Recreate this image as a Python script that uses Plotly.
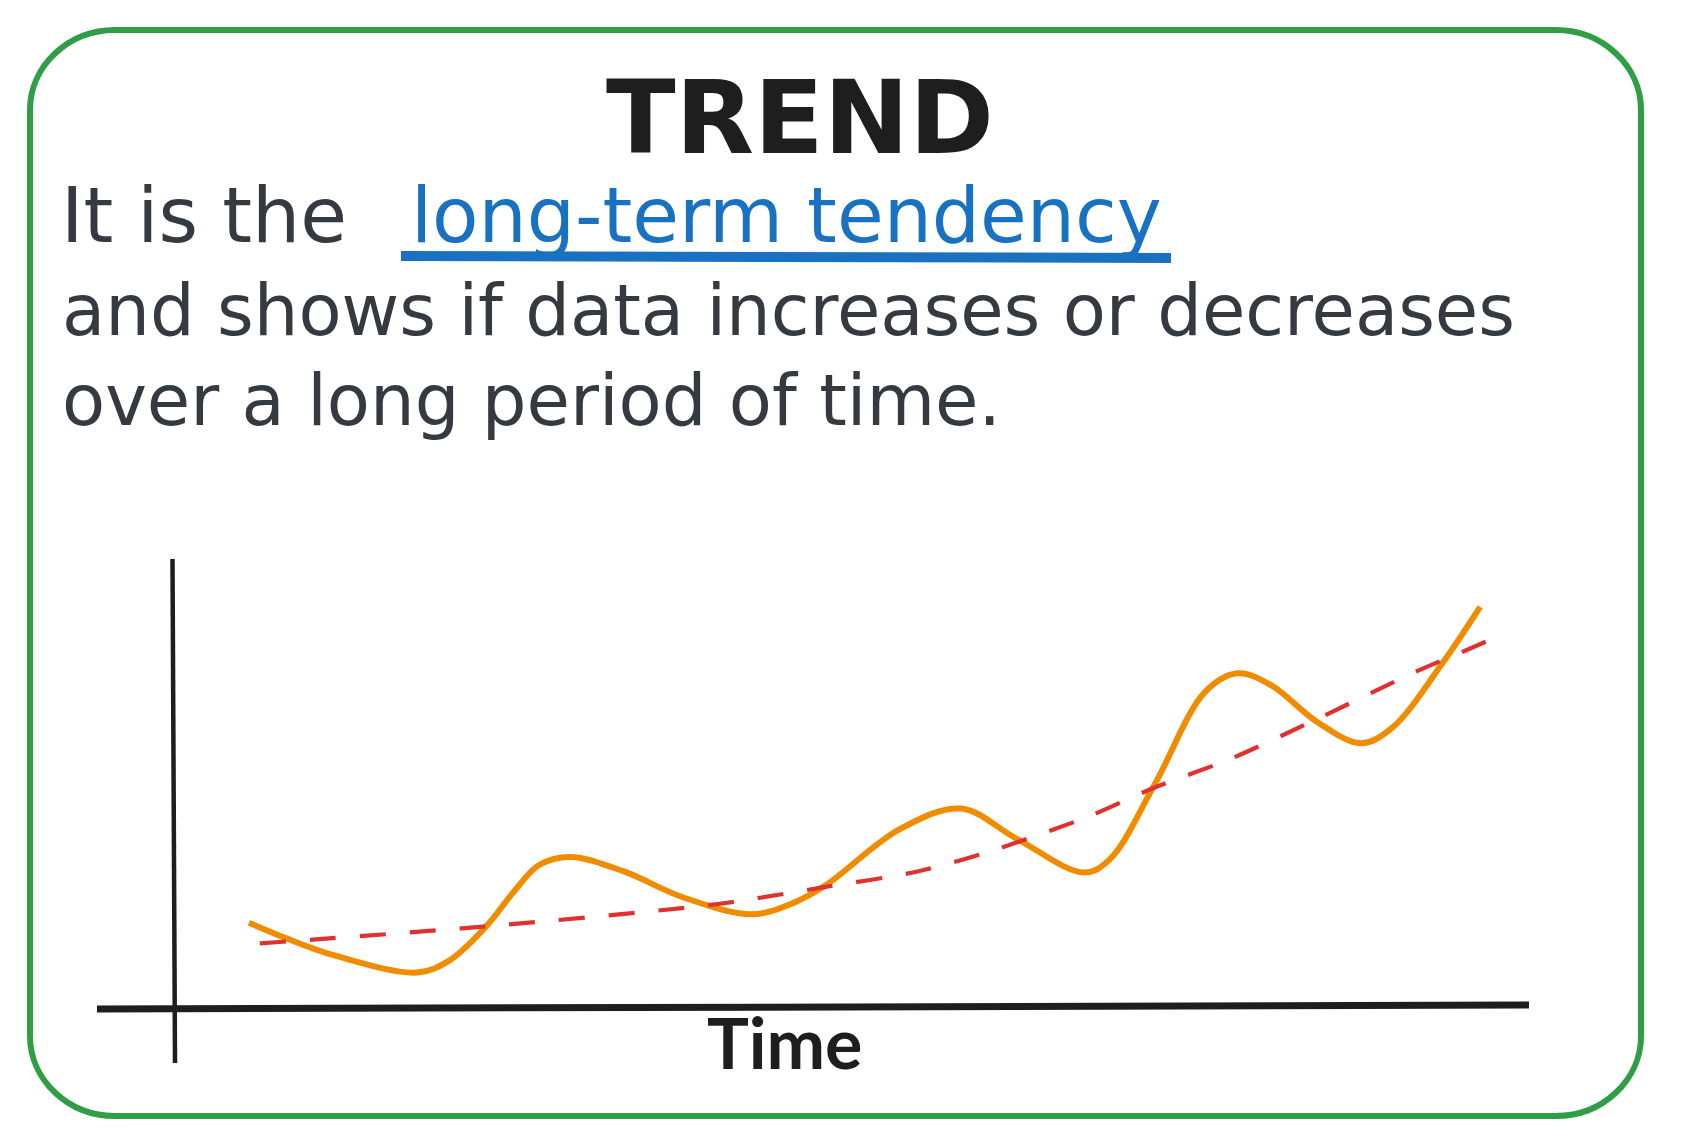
import plotly.graph_objects as go

# ---- data ----
time_vals = [5.6, 8.3, 11.9, 18.0, 20.4, 23.1, 25.1, 27.0, 29.3, 33.3, 37.6, 42.7, 45.8, 48.1,
             53.6, 58.1, 62.2, 67.2, 69.1, 72.4, 76.1, 78.5, 81.0, 84.3, 87.6, 89.9, 93.7, 96.4]
series_vals = [18.8, 15.4, 11.5, 7.7, 10.4, 18.0, 25.6, 31.7, 33.5, 30.2, 24.5, 20.7, 23.3, 27.1,
               39.7, 44.3, 37.6, 30.0, 33.0, 49.7, 70.3, 74.5, 71.8, 63.8, 58.9, 62.3, 77.1, 89.3]
trend_time = [6.4, 23.1, 40.2, 48.1, 55.0, 60.4, 67.5, 72.4, 78.0, 84.8, 91.7, 95.2, 97.6]
trend_vals = [14.2, 18.0, 23.0, 26.8, 30.3, 34.9, 42.5, 49.0, 55.4, 64.9, 74.9, 79.4, 82.6]

title_text = "TREND"
line1_plain = "It is the"
line1_hl = "long-term tendency"
line2 = "and shows if data increases or decreases"
line3 = "over a long period of time."
x_label = "Time"

# ---- layout geometry ----
W, H = 1680, 1127
OFF = 8
ML, MR, MT, MB = 165, 159, 551, 128
PW = W - ML - MR
PH = H - MT - MB

def px(X):
    return (X - OFF - ML) / PW

def py(Y):
    return (H - MB - (Y - OFF)) / PH

DARK = "#343a40"
INK = "#1e1e1e"
BLUE = "#1971c2"
ORANGE = "#f08c00"
RED = "#e03131"
GREEN = "#2f9e44"

fig = go.Figure()
fig.add_trace(go.Scatter(x=time_vals, y=series_vals, mode="lines",
                         line=dict(color=ORANGE, width=6, shape="spline", smoothing=1.0),
                         cliponaxis=False, hoverinfo="skip"))
fig.add_trace(go.Scatter(x=trend_time, y=trend_vals, mode="lines",
                         line=dict(color=RED, width=4.2, shape="spline", smoothing=0.8, dash="26px,24px"),
                         cliponaxis=False, hoverinfo="skip"))

# rounded green frame (paper coords)
L, R, T, B = 30, 1641, 30, 1116
rx, ry = 85, 80
k = 0.45
def P(X, Y):
    return f"{px(X):.5f},{py(Y):.5f}"
path = (f"M {P(L+rx, T)} L {P(R-rx, T)} "
        f"C {P(R-rx*k, T)} {P(R, T+ry*k)} {P(R, T+ry)} "
        f"L {P(R, B-ry)} C {P(R, B-ry*k)} {P(R-rx*k, B)} {P(R-rx, B)} "
        f"L {P(L+rx, B)} C {P(L+rx*k, B)} {P(L, B-ry*k)} {P(L, B-ry)} "
        f"L {P(L, T+ry)} C {P(L, T+ry*k)} {P(L+rx*k, T)} {P(L+rx, T)} Z")

shapes = [
    dict(type="path", xref="paper", yref="paper", path=path,
         line=dict(color=GREEN, width=6), layer="below"),
    # x axis
    dict(type="line", xref="paper", yref="paper", x0=px(97), y0=py(1009), x1=px(1529), y1=py(1005),
         line=dict(color=INK, width=7)),
    # y axis
    dict(type="line", xref="paper", yref="paper", x0=px(172.5), y0=py(559), x1=px(175), y1=py(1063),
         line=dict(color=INK, width=4.5)),
    # blue underline
    dict(type="line", xref="paper", yref="paper", x0=px(401), y0=py(256), x1=px(1171), y1=py(258),
         line=dict(color=BLUE, width=10)),
]

BODY = 70.5
FONT = "DejaVu Sans"
annotations = [
    dict(text=title_text, x=px(800), y=py(117), xref="paper", yref="paper",
         xanchor="center", yanchor="middle", showarrow=False,
         font=dict(family="DejaVu Sans", size=102, color=INK, weight="bold")),
    dict(text=line1_plain, x=px(59), y=py(215), xref="paper", yref="paper",
         xanchor="left", yanchor="middle", showarrow=False,
         font=dict(family=FONT, size=76, color=DARK)),
    dict(text=line1_hl, x=px(409), y=py(215), xref="paper", yref="paper",
         xanchor="left", yanchor="middle", showarrow=False,
         font=dict(family=FONT, size=76, color=BLUE)),
    dict(text=line2, x=px(60), y=py(311), xref="paper", yref="paper",
         xanchor="left", yanchor="middle", showarrow=False,
         font=dict(family=FONT, size=BODY, color=DARK)),
    dict(text=line3, x=px(60), y=py(401), xref="paper", yref="paper",
         xanchor="left", yanchor="middle", showarrow=False,
         font=dict(family=FONT, size=BODY, color=DARK)),
    dict(text=x_label, x=px(784), y=py(1042), xref="paper", yref="paper",
         xanchor="center", yanchor="middle", showarrow=False,
         font=dict(family="Lato", size=70, color=INK, weight="bold")),
]

fig.update_layout(
    width=W, height=H,
    margin=dict(l=ML, r=MR, t=MT, b=MB, pad=0),
    paper_bgcolor="white", plot_bgcolor="white",
    showlegend=False,
    xaxis=dict(visible=False, range=[0, 100], fixedrange=True),
    yaxis=dict(visible=False, range=[0, 100], fixedrange=True),
    shapes=shapes, annotations=annotations,
)

fig.write_html("out.html", config={"displayModeBar": False})
